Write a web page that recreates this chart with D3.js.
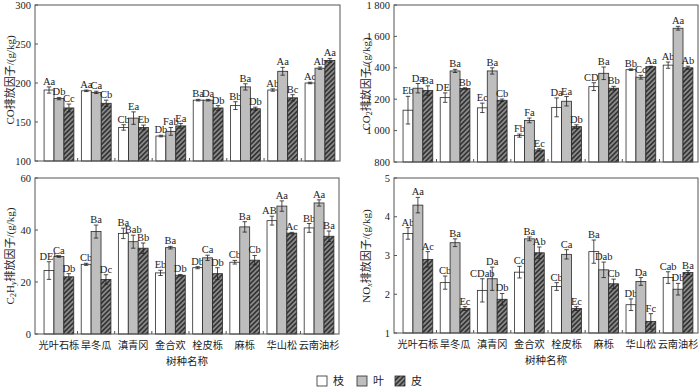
<!DOCTYPE html>
<html>
<head>
<meta charset="utf-8">
<script src="https://cdn.jsdelivr.net/npm/d3@7"></script>
<style>
  body { margin: 0; background: #fff; }
  text { font-family: "Liberation Serif", "Times New Roman", "Noto Sans CJK SC", serif; fill: #222; }
</style>
</head>
<body>
<div id="chart"></div>
<script>
var species = ['光叶石栎', '旱冬瓜', '滇青冈', '金合欢', '栓皮栎', '麻栎', '华山松', '云南油杉']
var parts = ['枝', '叶', '皮']

// CO
var coMean = [[191, 180, 168], [190, 188, 174], [143, 155, 143], [132, 138, 145], [178, 178, 168], [171, 195, 167], [191, 215, 181], [200, 219, 229]]
var coErr = [[4, 1.5, 5], [1, 1.5, 4], [3.5, 8, 3], [1, 5, 3], [1, 1, 3], [5, 4, 2], [1.5, 5, 4], [1, 1.5, 2.5]]
var coSig = [['Aa', 'Db', 'Cc'], ['Aa', 'Ca', 'Cb'], ['Cb', 'Ea', 'Eb'], ['Db', 'Fab', 'Ea'], ['Ba', 'Da', 'Db'], ['Bb', 'Ba', 'Db'], ['Ab', 'Aa', 'Bc'], ['Ac', 'Ab', 'Aa']]
var coTicks = [100, 150, 200, 250, 300]

// CO2
var co2Mean = [[1130, 1270, 1255], [1210, 1380, 1268], [1145, 1380, 1193], [968, 1065, 877], [1148, 1187, 1025], [1280, 1365, 1270], [1388, 1340, 1407], [1417, 1652, 1400]]
var co2Err = [[88, 30, 30], [30, 10, 5], [30, 20, 8], [10, 15, 8], [60, 30, 12], [25, 40, 12], [5, 12, 3], [20, 12, 10]]
var co2Sig = [['Eb', 'Da', 'Ba'], ['DEc', 'Ba', 'Bb'], ['Ec', 'Ba', 'Cb'], ['Fb', 'Fa', 'Ec'], ['Da', 'Ea', 'Db'], ['CDb', 'Ba', 'Bb'], ['Bb', 'Cc', 'Aa'], ['Ab', 'Aa', 'Ab']]
var co2Ticks = [800, 1000, 1200, 1400, 1600, 1800]

// C2Hy
var chMean = [[24.4, 29.8, 22], [26.8, 39.4, 21], [38.7, 35.5, 33], [23.5, 33.2, 22.6], [25.5, 29.3, 23.2], [27.6, 41.2, 28.4], [43.6, 49.2, 38.8], [40.8, 50.4, 37.6]]
var chErr = [[3.4, 0.3, 1.2], [0.4, 2.5, 1.8], [2, 2.5, 2], [1, 0.5, 0.3], [0.4, 1, 2.3], [0.7, 2, 1.8], [1.7, 2, 0.3], [1.7, 1.2, 2]]
var chSig = [['DEb', 'Ca', 'Db'], ['Cb', 'Ba', 'Dc'], ['Ba', 'Bab', 'Bb'], ['Eb', 'Ba', 'Db'], ['Db', 'Ca', 'Db'], ['Cb', 'Ba', 'Cb'], ['ABb', 'Aa', 'Ac'], ['Bb', 'Aa', 'Ba']]
var chTicks = [0, 20, 40, 60]

// NOx
var noMean = [[3.57, 4.3, 2.9], [2.3, 3.33, 1.63], [2.1, 2.4, 1.87], [2.57, 3.43, 3.07], [2.2, 3.03, 1.63], [3.1, 2.63, 2.27], [1.73, 2.33, 1.3], [2.43, 2.13, 2.56]]
var noErr = [[0.15, 0.2, 0.2], [0.17, 0.1, 0.05], [0.3, 0.3, 0.15], [0.15, 0.05, 0.15], [0.1, 0.12, 0.05], [0.3, 0.2, 0.12], [0.15, 0.1, 0.2], [0.15, 0.15, 0.05]]
var noSig = [['Ab', 'Aa', 'Ac'], ['Cb', 'Ba', 'Ec'], ['CDab', 'Da', 'Db'], ['Cc', 'Ba', 'Ab'], ['Cb', 'Ca', 'Ec'], ['Ba', 'Dab', 'Cb'], ['Db', 'Da', 'Fc'], ['Cab', 'Db', 'Ba']]
var noTicks = [1, 2, 3, 4, 5]

var WIDTH = 700
var HEIGHT = 387
var AXIS = '#555'
var FILLS = ['#fff', '#bebebe', 'url(#hatch)']

var svg = d3.select('#chart').append('svg')
  .attr('width', WIDTH)
  .attr('height', HEIGHT)

var pat = svg.append('defs').append('pattern')
  .attr('id', 'hatch')
  .attr('patternUnits', 'userSpaceOnUse')
  .attr('width', 3.4)
  .attr('height', 3.4)
  .attr('patternTransform', 'rotate(45)')
pat.append('rect').attr('width', 3.4).attr('height', 3.4).attr('fill', '#8a8a8a')
pat.append('line').attr('x1', 0.8).attr('y1', 0).attr('x2', 0.8).attr('y2', 3.4)
  .attr('stroke', '#333').attr('stroke-width', 1.7)

var fmtSpace = function (v) {
  return v >= 1000 ? String(v).replace(/(\d)(\d{3})$/, '$1 $2') : String(v)
}

var drawPanel = function (p) {
  var g = svg.append('g')

  var x = d3.scaleBand().domain(species)
    .range([p.left, p.right])
    .paddingInner(0.2).paddingOuter(0.19).align(0.64)
  var xs = d3.scaleBand().domain(parts).range([0, x.bandwidth()])
  var y = d3.scaleLinear().domain([p.ticks[0], p.ticks[p.ticks.length - 1]])
    .range([p.bottom, p.top])

  // bars
  species.forEach(function (s, i) {
    var grp = g.append('g').attr('transform', 'translate(' + x(s) + ',0)')
    parts.forEach(function (pt, j) {
      var v = p.mean[i][j]
      var e = p.err[i][j]
      var bx = xs(pt)
      var cx = bx + xs.bandwidth() / 2
      grp.append('rect')
        .attr('x', bx)
        .attr('y', y(v))
        .attr('width', xs.bandwidth())
        .attr('height', y.range()[0] - y(v))
        .attr('fill', FILLS[j])
        .attr('stroke', '#2a2a2a')
        .attr('stroke-width', 0.8)
      // error bar
      grp.append('line')
        .attr('x1', cx).attr('x2', cx)
        .attr('y1', y(v + e)).attr('y2', y(v - e))
        .attr('stroke', '#222').attr('stroke-width', 0.8)
      ;[v + e, v - e].forEach(function (t) {
        grp.append('line')
          .attr('x1', cx - 2.2).attr('x2', cx + 2.2)
          .attr('y1', y(t)).attr('y2', y(t))
          .attr('stroke', '#222').attr('stroke-width', 0.8)
      })
      grp.append('text')
        .attr('x', cx)
        .attr('y', y(v + e) - 2)
        .attr('text-anchor', 'middle')
        .attr('font-size', 10.5)
        .text(p.sig[i][j])
    })
  })

  // frame
  g.append('rect')
    .attr('x', p.left).attr('y', p.top)
    .attr('width', p.right - p.left).attr('height', p.bottom - p.top)
    .attr('fill', 'none').attr('stroke', AXIS).attr('stroke-width', 1)

  // y ticks (inward) + labels
  p.ticks.forEach(function (t) {
    g.append('line')
      .attr('x1', p.left).attr('x2', p.left + 3)
      .attr('y1', y(t)).attr('y2', y(t))
      .attr('stroke', AXIS)
    g.append('text')
      .attr('x', p.left - 4)
      .attr('y', y(t))
      .attr('dy', '0.35em')
      .attr('text-anchor', 'end')
      .attr('font-size', 10.5)
      .text(fmtSpace(t))
  })

  // group separator ticks
  var step = x.step()
  species.slice(1).forEach(function (s) {
    var tx = x(s) - step * x.paddingInner() / 2
    g.append('line')
      .attr('x1', tx).attr('x2', tx)
      .attr('y1', p.bottom).attr('y2', p.bottom - 3)
      .attr('stroke', AXIS)
  })

  // y title
  var title = g.append('text')
    .attr('transform', 'translate(' + p.titleX + ',' + p.titleY + ') rotate(-90)')
    .attr('text-anchor', 'middle')
    .attr('font-size', 11)
  p.title.forEach(function (part) {
    var ts = title.append('tspan').text(part.t)
    if (part.sub) ts.attr('font-size', 8).attr('baseline-shift', '-25%')
    if (part.it) ts.attr('font-style', 'italic')
  })

  if (p.xlabels) {
    species.forEach(function (s) {
      g.append('text')
        .attr('x', x(s) + x.bandwidth() / 2)
        .attr('y', p.bottom + 15)
        .attr('text-anchor', 'middle')
        .attr('font-size', 10.2)
        .text(s)
    })
    g.append('text')
      .attr('x', (p.left + p.right) / 2)
      .attr('y', p.bottom + 31)
      .attr('text-anchor', 'middle')
      .attr('font-size', 10.5)
      .text('树种名称')
  }
}

drawPanel({left: 35, right: 340, top: 5, bottom: 161, ticks: coTicks,
  mean: coMean, err: coErr, sig: coSig, titleX: 14, titleY: 80,
  title: [{t: 'CO排放因子/(g/kg)'}]})

drawPanel({left: 394, right: 698, top: 5, bottom: 162, ticks: co2Ticks,
  mean: co2Mean, err: co2Err, sig: co2Sig, titleX: 370, titleY: 84,
  title: [{t: 'CO'}, {t: '2', sub: true}, {t: '排放因子/(g/kg)'}]})

drawPanel({left: 35, right: 339, top: 178, bottom: 334, ticks: chTicks,
  mean: chMean, err: chErr, sig: chSig, titleX: 14, titleY: 256, xlabels: true,
  title: [{t: 'C'}, {t: '2', sub: true}, {t: 'H'}, {t: 'y', sub: true, it: true}, {t: '排放因子/(g/kg)'}]})

drawPanel({left: 394, right: 698, top: 178, bottom: 333, ticks: noTicks,
  mean: noMean, err: noErr, sig: noSig, titleX: 370, titleY: 256, xlabels: true,
  title: [{t: 'NO'}, {t: 'x', sub: true, it: true}, {t: '排放因子/(g/kg)'}]})

// legend
var legendX = [317, 357, 395]
var legend = svg.append('g')
parts.forEach(function (pt, j) {
  legend.append('rect')
    .attr('x', legendX[j]).attr('y', 376)
    .attr('width', 10).attr('height', 10)
    .attr('fill', FILLS[j])
    .attr('stroke', '#2a2a2a').attr('stroke-width', 0.8)
  legend.append('text')
    .attr('x', legendX[j] + 16).attr('y', 381)
    .attr('dy', '0.35em')
    .attr('font-size', 11)
    .text(pt)
})
</script>
</body>
</html>
